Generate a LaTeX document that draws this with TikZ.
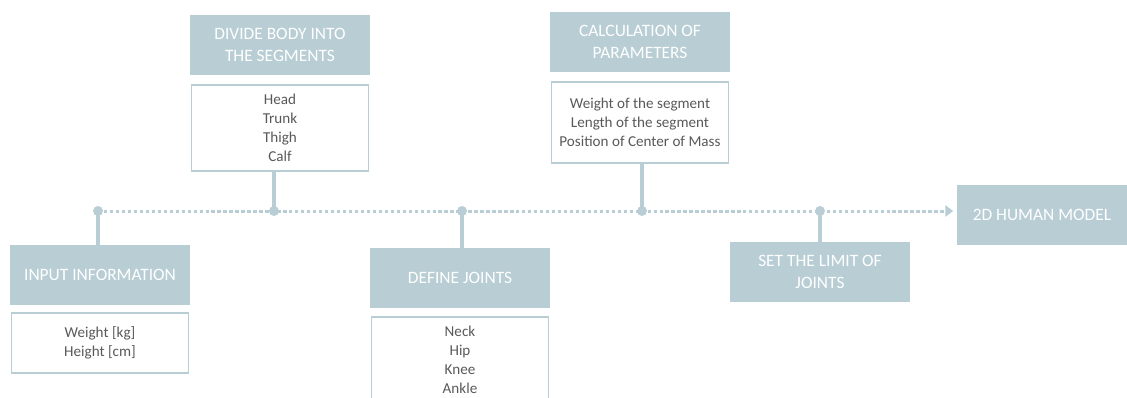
\documentclass[tikz,border=0pt]{standalone}
\usepackage{fontspec}
\setmainfont{Carlito}
\usepackage{tikz}
\usetikzlibrary{positioning,arrows.meta}
\definecolor{stepblue}{HTML}{B8CED4}
\definecolor{stepgray}{HTML}{595959}

\begin{document}
\begin{tikzpicture}[
  x=0.02cm, y=-0.02cm,
  >={Triangle[length=4.5pt,width=6.5pt]},
  headbox/.style={
    fill=stepblue, text=white, align=center,
    minimum width=3.6cm, minimum height=1.2cm,
    font=\fontsize{9.9}{12.5}\selectfont
  },
  listbox/.style={
    draw=stepblue, line width=0.8pt, fill=white, text=stepgray,
    align=center, minimum width=3.55cm,
    font=\fontsize{8.6}{10.8}\selectfont
  },
  timeline/.style={
    draw=stepblue, line width=1.7pt,
    dash pattern=on 1.9pt off 1.5pt
  },
  stemline/.style={draw=stepblue, line width=1.8pt},
  dot/.style={fill=stepblue}
]
\useasboundingbox (0,0) rectangle (1127,397);

% points on the time line
\coordinate (d1) at (98,211);
\coordinate (d2) at (274,211);
\coordinate (d3) at (462,211);
\coordinate (d4) at (642,211);
\coordinate (d5) at (820,211);

% steps
\node[headbox] (input) at (100,275) {INPUT INFORMATION};
\node[listbox,minimum height=1.2cm,below=0.14cm of input] (inputlist)
  {Weight [kg]\\Height [cm]};

\node[headbox] (divide) at (280,45) {DIVIDE BODY INTO\\THE SEGMENTS};
\node[listbox,minimum height=1.72cm,below=0.18cm of divide] (dividelist)
  {Head\\Trunk\\Thigh\\Calf};

\node[headbox] (joints) at (460,278) {DEFINE JOINTS};
\node[listbox,minimum height=1.72cm,below=0.16cm of joints] (jointslist)
  {Neck\\Hip\\Knee\\Ankle};

\node[headbox] (params) at (640,42) {CALCULATION OF\\PARAMETERS};
\node[listbox,minimum height=1.62cm,below=0.18cm of params] (paramslist)
  {Weight of the segment\\Length of the segment\\Position of Center of Mass};

\node[headbox] (limits) at (820,272) {SET THE LIMIT OF\\JOINTS};

\node[headbox,minimum width=3.4cm] (model) at (1042,215) {2D HUMAN MODEL};

% time line
\draw[timeline,->,shorten >=2pt] (d1) -- (d1 -| model.west);

% stems
\draw[stemline] (d1) -- (d1 |- input.north);
\draw[stemline] (d2 |- dividelist.south) -- (d2);
\draw[stemline] (d3) -- (d3 |- joints.north);
\draw[stemline] (d4 |- paramslist.south) -- (d4);
\draw[stemline] (d5) -- (d5 |- limits.north);

\foreach \p in {d1,d2,d3,d4,d5}
  \fill[dot] (\p) circle (0.1cm);
\end{tikzpicture}
\end{document}
